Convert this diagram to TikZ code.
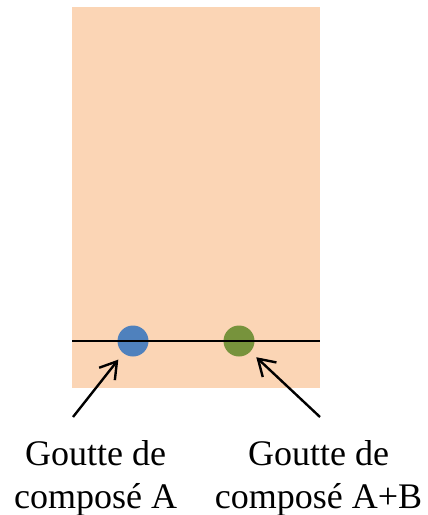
\documentclass[tikz,border=0pt]{standalone}
\usepackage{fontspec}
\setmainfont{Liberation Serif}
\usetikzlibrary{arrows.meta}
\definecolor{peach}{HTML}{FBD5B5}
\definecolor{dropblue}{HTML}{4F81BD}
\definecolor{dropgreen}{HTML}{77933C}
\tikzset{
  drop/.style={circle, minimum size=31bp, inner sep=0pt, draw=none},
  pointer/.style={line width=2.4bp, -{Straight Barb[length=16bp,width=20bp]}, shorten >=8bp},
  caption/.style={align=center, inner sep=0pt, anchor=base, font=\fontsize{36bp}{42.3bp}\selectfont}
}
\begin{document}
\begin{tikzpicture}[x=1bp,y=-1bp]
\useasboundingbox (0,0) rectangle (427,515);
\fill[peach] (72,7) rectangle (320,388);
\coordinate (lineL) at (72,341);
\coordinate (lineR) at (320,341);
\node[drop, fill=dropblue] (blue) at (133,341) {};
\node[drop, fill=dropgreen] (green) at (239,341) {};
\draw[line width=1.3bp] (lineL) -- (lineR);
\coordinate (tailA) at (73,417);
\coordinate (tailB) at (320,417);
\draw[pointer] (tailA) -- (blue);
\draw[pointer] (tailB) -- (green);
\node[caption] (capA) at (95.6,508) {Goutte de\\compos\'e A};
\node[caption] (capB) at (318.5,508) {Goutte de\\compos\'e A+B};
\end{tikzpicture}
\end{document}
